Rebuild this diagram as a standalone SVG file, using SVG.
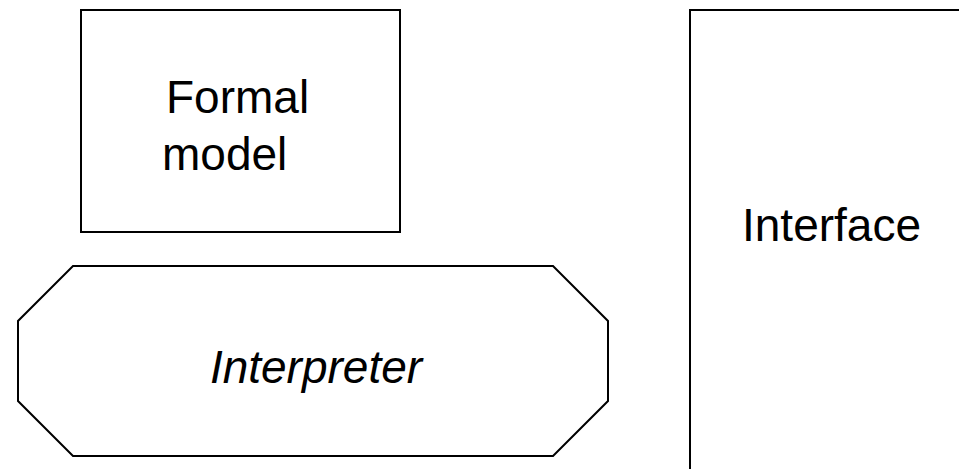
<svg xmlns="http://www.w3.org/2000/svg" width="959" height="469" viewBox="0 0 959 469">
<style>
.shape{fill:#fff;stroke:#000;stroke-width:2}
.lbl{font-family:"Liberation Sans",Arial,sans-serif;font-size:46px;fill:#000}
</style>
<rect width="959" height="469" fill="#fff"/>
<g id="formal-model">
<rect class="shape" x="81" y="10" width="319" height="222"/>
<text class="lbl" x="166" y="113">Formal</text>
<text class="lbl" x="162" y="170">model</text>
</g>
<g id="interpreter">
<polygon class="shape" points="73,266 553,266 608,321 608,401 553,456 73,456 18,401 18,321"/>
<text class="lbl" x="316" y="383" text-anchor="middle" font-style="italic">Interpreter</text>
</g>
<g id="interface">
<rect class="shape" x="690" y="10" width="280" height="470"/>
<text class="lbl" x="742" y="241">Interface</text>
</g>
<g id="connectors"></g>
</svg>
